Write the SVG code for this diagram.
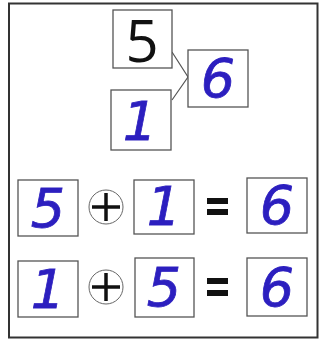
<svg xmlns="http://www.w3.org/2000/svg" width="320" height="341" viewBox="0 0 320 341">
<style>
.box{fill:#fff;stroke:#555;stroke-width:1.3}
.blue{font-family:"DejaVu Sans","Liberation Sans",sans-serif;font-style:italic;font-size:54px;fill:#2c1fbf;stroke:#2c1fbf;stroke-width:0.8;text-anchor:middle}
.blk{font-family:"Open Sans","Liberation Sans",sans-serif;font-size:58px;fill:#111;text-anchor:middle}
.op{fill:none;stroke:#666;stroke-width:1}
.plus{stroke:#111;stroke-width:3.5}
.eq{fill:#111}
.conn{fill:none;stroke:#555;stroke-width:1.2}
</style>
<rect x="0" y="0" width="320" height="341" fill="#fff"/>
<rect x="9" y="3.5" width="308.5" height="334" fill="none" stroke="#333" stroke-width="2"/>
<g id="connectors">
<polyline class="conn" points="172,52 188,77 172,100"/>
</g>
<g id="n5top"><rect class="box" x="113" y="10" width="59" height="58"/><text class="blk" x="142" y="62">5</text></g>
<g id="n1top"><rect class="box" x="111" y="90" width="60" height="60"/><text class="blue" x="140" y="140">1</text></g>
<g id="n6top"><rect class="box" x="188" y="50" width="60" height="57"/><text class="blue" x="218" y="97">6</text></g>
<g id="row1">
<rect class="box" x="18" y="180" width="60" height="56"/><text class="blue" x="48" y="227">5</text>
<circle class="op" cx="106" cy="207" r="17"/><line class="plus" x1="106" y1="193" x2="106" y2="221"/><line class="plus" x1="92" y1="207" x2="120" y2="207"/>
<rect class="box" x="134" y="180" width="60" height="54"/><text class="blue" x="164" y="225">1</text>
<rect class="eq" x="207" y="198" width="21" height="6"/><rect class="eq" x="207" y="209" width="21" height="6"/>
<rect class="box" x="247" y="178" width="60" height="55"/><text class="blue" x="277" y="224">6</text>
</g>
<g id="row2">
<rect class="box" x="18" y="261" width="60" height="56"/><text class="blue" x="48" y="308">1</text>
<circle class="op" cx="106" cy="287" r="17"/><line class="plus" x1="106" y1="273" x2="106" y2="301"/><line class="plus" x1="92" y1="287" x2="120" y2="287"/>
<rect class="box" x="135" y="258" width="59" height="59"/><text class="blue" x="164" y="306">5</text>
<rect class="eq" x="207" y="278" width="21" height="6"/><rect class="eq" x="207" y="290" width="21" height="6"/>
<rect class="box" x="247" y="258" width="60" height="58"/><text class="blue" x="277" y="306">6</text>
</g>
</svg>
